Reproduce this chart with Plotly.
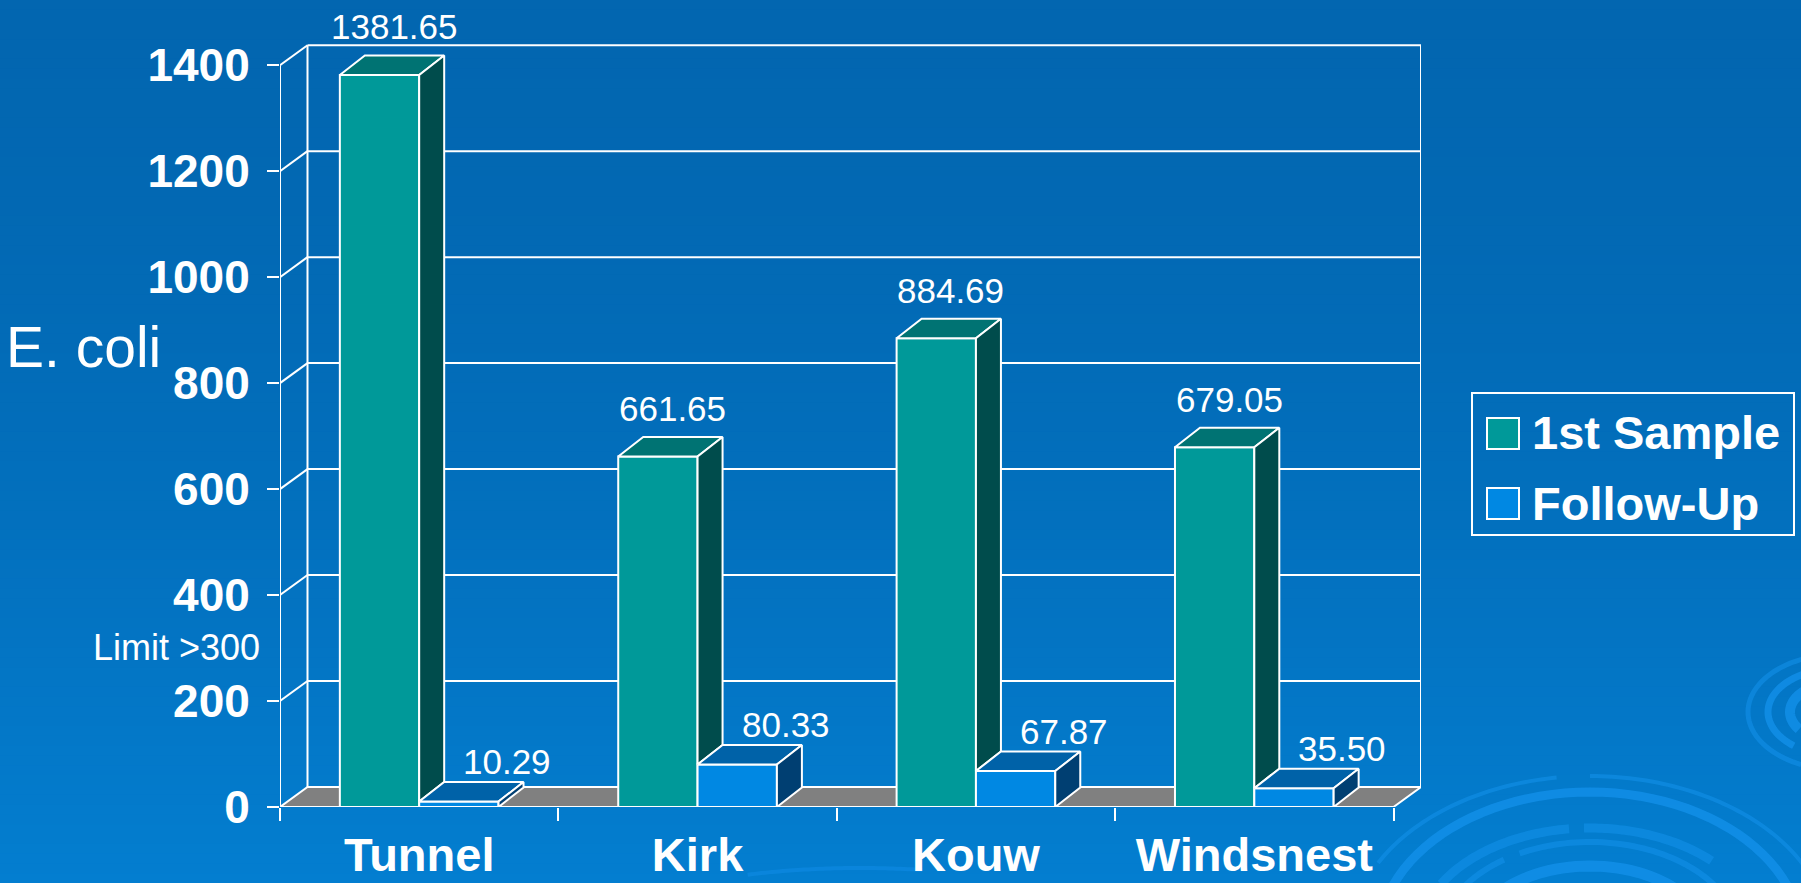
import math
import plotly.graph_objects as go

# ---------------- data ----------------
categories = ["Tunnel", "Kirk", "Kouw", "Windsnest"]
first_sample = [1381.65, 661.65, 884.69, 679.05]
follow_up = [10.29, 80.33, 67.87, 35.50]
series_names = ["1st Sample", "Follow-Up"]
y_ticks = [0, 200, 400, 600, 800, 1000, 1200, 1400]
y_label = "E. coli"
limit_note = "Limit >300"

# ---------------- geometry / style ----------------
W, H = 1801, 883
ML, MR, MT, MB = 280, 380, 44, 76
PW, PH = W - ML - MR, H - MT - MB
Y_MAX = 1440
WALL_DX_PX, WALL_DY_PX = 27.5, 20.0
BAR_DX_PX, BAR_DY_PX = 25.0, 19.5
BAR_W = 0.285
n = len(categories)
cat_px = (PW - WALL_DX_PX) / n
px_per_unit = PH / Y_MAX
wdx, wdy = WALL_DX_PX / cat_px, WALL_DY_PX / px_per_unit
bdx, bdy = BAR_DX_PX / cat_px, BAR_DY_PX / px_per_unit
X0, X1 = -0.5, n - 0.5
FONT = "Liberation Sans, Arial, sans-serif"

TEAL = dict(front="#009999", top="#007373", side="#004C4C")
BLUE = dict(front="#0088E3", top="#0062A8", side="#003F72")
FLOOR = "#808080"
WHITE = "#FFFFFF"
LW = 2


def xp(px):
    return (px - ML) / PW


def yp(py):
    return (H - MB - py) / PH


fig = go.Figure()

# front faces as real bars
for vals, name, col in [(first_sample, series_names[0], TEAL), (follow_up, series_names[1], BLUE)]:
    fig.add_trace(go.Bar(
        x=categories, y=vals, name=name, marker=dict(color=col["front"], line=dict(color=WHITE, width=LW)),
        showlegend=False, hoverinfo="skip", xaxis="x", yaxis="y"))


def poly(xs, ys, color):
    fig.add_trace(go.Scatter(
        x=xs + [xs[0]], y=ys + [ys[0]], mode="lines", fill="toself", fillcolor=color,
        line=dict(color=WHITE, width=LW), showlegend=False, hoverinfo="skip",
        xaxis="x2", yaxis="y"))


# top and side faces (pseudo 3-D), computed from the values
for i in range(n):
    v, u = first_sample[i], follow_up[i]
    xl, xr = i - BAR_W, i
    poly([xl, xl + bdx, xr + bdx, xr], [v, v + bdy, v + bdy, v], TEAL["top"])
    poly([xr, xr + bdx, xr + bdx, xr], [u, u + bdy, v + bdy, v], TEAL["side"])
    xl2, xr2 = i, i + BAR_W
    poly([xl2, xl2 + bdx, xr2 + bdx, xr2], [u, u + bdy, u + bdy, u], BLUE["top"])
    poly([xr2, xr2 + bdx, xr2 + bdx, xr2], [0, bdy, u + bdy, u], BLUE["side"])

shapes = []

# background gradient
NB = 90
top_c, bot_c = (2, 102, 176), (3, 126, 208)
for j in range(NB):
    t = (j + 0.5) / NB
    f = t ** 1.6
    c = tuple(round(top_c[k] + (bot_c[k] - top_c[k]) * f) for k in range(3))
    shapes.append(dict(type="rect", xref="paper", yref="paper", layer="below",
                       x0=xp(-2), x1=xp(W + 2), y0=yp((j + 1) * H / NB + 1), y1=yp(j * H / NB),
                       line=dict(width=0), fillcolor="rgb(%d,%d,%d)" % c))


def arc(cx, cy, rx, ry, a0, a1, width, color):
    pts = []
    steps = 48
    for s in range(steps + 1):
        a = math.radians(a0 + (a1 - a0) * s / steps)
        px = cx + rx * math.cos(a)
        py = cy - ry * math.sin(a)
        pts.append("%.5f,%.5f" % (xp(px), yp(py)))
    shapes.append(dict(type="path", xref="paper", yref="paper", layer="below",
                       path="M" + " L".join(pts), line=dict(color=color, width=width)))


# decorative water ripples of the slide background
rc = "rgba(20,145,235,0.55)"
rc2 = "rgba(20,145,235,0.75)"
arc(1590, 940, 240, 164, 152, 98, 4, rc)
arc(1590, 940, 240, 164, 90, 25, 4, rc)
arc(1590, 940, 212, 148, 172, 8, 9, rc2)
arc(1590, 940, 172, 112, 150, 97, 9, rc)
arc(1590, 940, 172, 112, 92, 45, 9, rc)
arc(1590, 940, 150, 98, 165, 125, 6, rc)
arc(1590, 940, 150, 98, 118, 20, 6, rc)
arc(1590, 940, 118, 74, 172, 8, 11, rc2)
arc(1590, 940, 80, 48, 175, 5, 14, rc2)
arc(1840, 712, 92, 58, 95, 245, 5, rc)
arc(1840, 712, 72, 44, 100, 230, 7, rc2)
arc(1840, 712, 50, 30, 110, 215, 10, rc2)
arc(860, 960, 300, 92, 112, 78, 4, "rgba(20,145,235,0.45)")

# floor
shapes.append(dict(type="path", xref="x2", yref="y", layer="below",
                   path="M%f,0 L%f,0 L%f,%f L%f,%f Z" % (X0, X1, X1 + wdx, wdy, X0 + wdx, wdy),
                   fillcolor=FLOOR, line=dict(color=WHITE, width=LW)))


def seg(x0, y0, x1, y1):
    shapes.append(dict(type="line", xref="x2", yref="y", layer="below",
                       x0=x0, y0=y0, x1=x1, y1=y1, line=dict(color=WHITE, width=LW)))


# walls and gridlines
top_v = y_ticks[-1]
seg(X0, 0, X0, top_v)                                # front value axis
seg(X0 + wdx, wdy, X0 + wdx, top_v + wdy)            # back-left edge
seg(X1 + wdx, wdy, X1 + wdx, top_v + wdy)            # back-right edge
for v in y_ticks[1:]:
    seg(X0, v, X0 + wdx, v + wdy)
    seg(X0 + wdx, v + wdy, X1 + wdx, v + wdy)

# legend (drawn)
shapes.append(dict(type="rect", xref="paper", yref="paper", x0=xp(1472), x1=xp(1794), y0=yp(535), y1=yp(393),
                   line=dict(color=WHITE, width=LW), fillcolor="rgba(0,0,0,0)"))
shapes.append(dict(type="rect", xref="paper", yref="paper", x0=xp(1487), x1=xp(1519), y0=yp(449), y1=yp(418),
                   line=dict(color=WHITE, width=LW), fillcolor=TEAL["front"]))
shapes.append(dict(type="rect", xref="paper", yref="paper", x0=xp(1487), x1=xp(1519), y0=yp(519), y1=yp(488),
                   line=dict(color=WHITE, width=LW), fillcolor=BLUE["front"]))

annotations = []
for vals, off, xs, ys in [(first_sample, -BAR_W / 2, 2, 48), (follow_up, BAR_W / 2, 36, 40)]:
    for i, v in enumerate(vals):
        annotations.append(dict(x=i + off + bdx / 2, y=v, xref="x2", yref="y", text="%.2f" % v,
                                showarrow=False, xanchor="center", yanchor="middle", xshift=xs, yshift=ys,
                                font=dict(family=FONT, size=35, color=WHITE)))

annotations.append(dict(x=xp(4), y=yp(347), xref="paper", yref="paper", text=y_label, showarrow=False,
                        xanchor="left", yanchor="middle", font=dict(family=FONT, size=57, color=WHITE)))
annotations.append(dict(x=xp(262), y=yp(647), xref="paper", yref="paper", text=limit_note, showarrow=False,
                        xanchor="right", yanchor="middle", font=dict(family=FONT, size=36, color=WHITE)))
for name, yc in zip(series_names, [433, 503]):
    annotations.append(dict(x=xp(1530), y=yp(yc), xref="paper", yref="paper", text=name, showarrow=False,
                            xanchor="left", yanchor="middle",
                            font=dict(family=FONT, size=47, color=WHITE, weight="bold")))

fig.update_layout(
    template="none",
    width=W, height=H,
    margin=dict(l=ML, r=MR, t=MT, b=MB, pad=0, autoexpand=False),
    paper_bgcolor="rgb(2,110,190)",
    plot_bgcolor="rgba(0,0,0,0)",
    barmode="group", bargap=1 - 2 * BAR_W, bargroupgap=0,
    showlegend=False,
    font=dict(family=FONT, color=WHITE),
    xaxis=dict(type="category", range=[X0, X1 + wdx], tickson="boundaries", ticks="outside",
               ticklen=13, tickwidth=LW, tickcolor=WHITE, showgrid=False, zeroline=False, showline=False,
               tickfont=dict(family=FONT, size=47, color=WHITE, weight="bold"), ticklabelstandoff=16,
               automargin=False, fixedrange=True),
    xaxis2=dict(type="linear", range=[X0, X1 + wdx], overlaying="x", anchor="y", visible=False,
                showgrid=False, zeroline=False, fixedrange=True),
    yaxis=dict(range=[0, Y_MAX], tickvals=y_ticks, ticktext=[str(t) for t in y_ticks], ticks="outside",
               ticklen=12, tickwidth=LW, tickcolor=WHITE, showgrid=False, zeroline=False, showline=False,
               tickfont=dict(family=FONT, size=46, color=WHITE, weight="bold"), ticklabelstandoff=8,
               automargin=False, fixedrange=True),
    shapes=shapes,
    annotations=annotations,
)

fig.write_html("out.html", config={"displayModeBar": False},
               post_script="document.body.style.margin='0';document.body.style.overflow='hidden';")
